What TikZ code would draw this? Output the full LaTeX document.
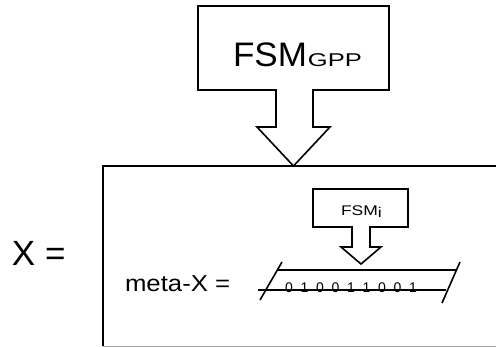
\documentclass[tikz,border=0pt]{standalone}
\usepackage{graphicx}
\usepackage{fontspec}
\setmainfont{Liberation Sans}
\begin{document}
\begin{tikzpicture}[x=1pt,y=-1pt,
  outline/.style={draw=black,line width=1.6pt,line join=miter},
  txt/.style={inner sep=0pt,outer sep=0pt,anchor=base west},
  dig/.style={inner sep=0pt,outer sep=0pt,anchor=base,font=\fontsize{14}{16}\selectfont}]
\useasboundingbox (0,0) rectangle (496,347);
% big frame
\coordinate (bl) at (103,346);
\coordinate (tl) at (103,166);
\coordinate (tr) at (498,166);
\coordinate (br) at (498,346);
\draw[line width=1.6pt] (tr) -- (tl) -- (bl);
\draw[line width=0.8pt,black!35] (bl) -- (br);
% FSM_GPP callout
\draw[outline] (198,6) -- (389,6) -- (389,90) -- (313,90) -- (313,127) -- (330,127)
  -- (293.5,166) -- (257,127) -- (276,127) -- (276,90) -- (198,90) -- cycle;
\node[txt] (gpp) at (233,67) {\scalebox{1.03}[1]{\fontsize{34}{40}\selectfont FSM}\hspace{1pt}\scalebox{1.38}[1]{\fontsize{18.5}{22}\selectfont GPP}};
% X =
\node[txt,font=\fontsize{35}{40}\selectfont] (xeq) at (12,266) {X =};
% meta-X =
\node[txt] (meta) at (125,292) {\scalebox{1.12}[1]{\fontsize{23}{26}\selectfont meta-X =}};
% FSM_i callout
\draw[outline] (313,189) -- (408,189) -- (408,227) -- (370,227) -- (370,247) -- (381,247)
  -- (361,264) -- (341,247) -- (352,247) -- (352,227) -- (313,227) -- cycle;
\node[txt] (fsmi) at (341,216) {\scalebox{1.25}[1]{\fontsize{14}{16}\selectfont FSM\raisebox{-2pt}{i}}};
% tape
\coordinate (ls1) at (282,262);
\coordinate (ls2) at (260,300);
\coordinate (rs1) at (460,262);
\coordinate (rs2) at (442,303);
\coordinate (t1) at (277.4,270);
\coordinate (t2) at (456.5,270);
\coordinate (b1) at (258,290);
\coordinate (b2) at (446,290);
\draw[line width=1.6pt] (ls1) -- (ls2);
\draw[line width=1.6pt] (rs1) -- (rs2);
\draw[line width=1.6pt] (t1) -- (t2);
\draw[line width=1.6pt] (b1) -- (b2);
\foreach \d [count=\i] in {0,1,0,0,1,1,0,0,1}
  \node[dig] (d\i) at ({289+(\i-1)*15.5},293) {\d};
\end{tikzpicture}
\end{document}
